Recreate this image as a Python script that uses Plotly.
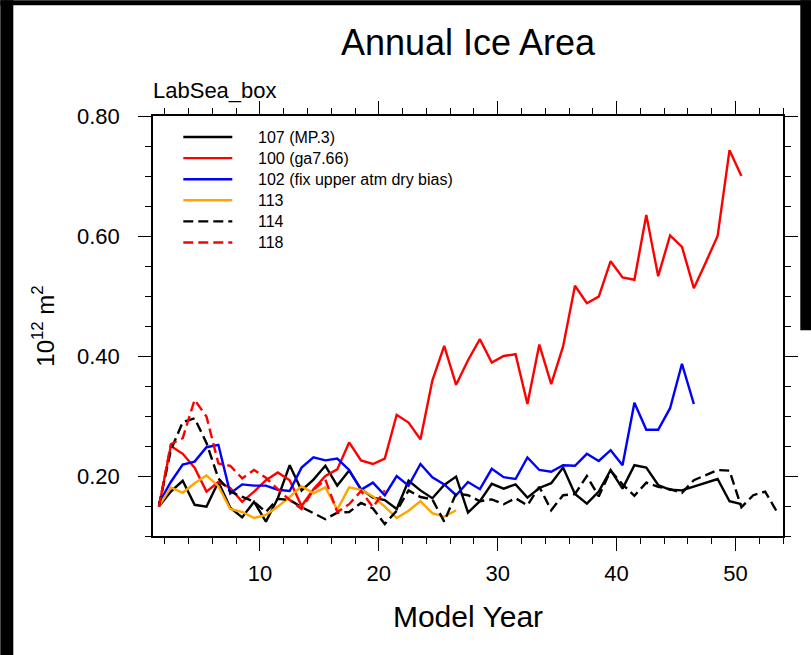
import plotly.graph_objects as go

# ---- data: annual ice area (10^12 m^2) per model year (mid-year positions) ----
years = [y + 0.5 for y in range(1, 54)]

area_107 = [0.149, 0.174, 0.192, 0.152, 0.149, 0.190, 0.147, 0.131, 0.157, 0.124,
            0.163, 0.218, 0.176, 0.194, 0.217, 0.184, 0.209, 0.178, 0.164, 0.160,
            0.145, 0.192, 0.176, 0.163, 0.185, 0.199, 0.139, 0.158, 0.187, 0.179,
            0.186, 0.164, 0.180, 0.188, 0.214, 0.170, 0.154, 0.174, 0.210, 0.179,
            0.218, 0.214, 0.185, 0.177, 0.176, 0.182, 0.188, 0.195, 0.158, 0.153]

area_100 = [0.149, 0.250, 0.237, 0.214, 0.174, 0.190, 0.180, 0.157, 0.174, 0.193,
            0.206, 0.193, 0.150, 0.178, 0.200, 0.211, 0.256, 0.226, 0.220, 0.229,
            0.302, 0.289, 0.261, 0.359, 0.417, 0.352, 0.393, 0.428, 0.389, 0.400,
            0.403, 0.320, 0.419, 0.353, 0.416, 0.517, 0.488, 0.499, 0.558, 0.531,
            0.527, 0.635, 0.533, 0.601, 0.582, 0.513, 0.556, 0.600, 0.743, 0.700]

area_102 = [0.155, 0.190, 0.219, 0.224, 0.248, 0.252, 0.171, 0.186, 0.184, 0.184,
            0.177, 0.175, 0.214, 0.231, 0.226, 0.229, 0.210, 0.177, 0.189, 0.168,
            0.200, 0.184, 0.220, 0.198, 0.186, 0.168, 0.190, 0.178, 0.212, 0.198,
            0.195, 0.231, 0.210, 0.207, 0.218, 0.217, 0.237, 0.225, 0.243, 0.218,
            0.322, 0.277, 0.277, 0.313, 0.387, 0.320]

area_113 = [0.150, 0.181, 0.172, 0.188, 0.201, 0.183, 0.145, 0.140, 0.130, 0.135,
            0.149, 0.165, 0.183, 0.171, 0.181, 0.144, 0.181, 0.177, 0.166, 0.149,
            0.130, 0.142, 0.158, 0.138, 0.132, 0.143]

area_114 = [0.150, 0.243, 0.290, 0.296, 0.255, 0.196, 0.174, 0.165, 0.157, 0.140,
            0.162, 0.160, 0.148, 0.138, 0.128, 0.139, 0.140, 0.155, 0.146, 0.120,
            0.142, 0.176, 0.165, 0.161, 0.124, 0.171, 0.168, 0.158, 0.161, 0.153,
            0.163, 0.151, 0.182, 0.143, 0.168, 0.170, 0.200, 0.166, 0.209, 0.186,
            0.167, 0.189, 0.182, 0.178, 0.172, 0.193, 0.201, 0.210, 0.209, 0.148,
            0.168, 0.174, 0.140]

area_118 = [0.149, 0.253, 0.263, 0.327, 0.299, 0.221, 0.217, 0.196, 0.210, 0.197,
            0.178, 0.160, 0.145, 0.177, 0.194, 0.140, 0.153, 0.175, 0.148, 0.176]

run_labels = ["107 (MP.3)", "100 (ga7.66)", "102 (fix upper atm dry bias)",
              "113", "114", "118"]
run_values = [area_107, area_100, area_102, area_113, area_114, area_118]
run_colors = ["black", "red", "blue", "orange", "black", "red"]
run_dashes = ["solid", "solid", "solid", "solid", "10px,5px", "10px,5px"]

x_ticks = [10, 20, 30, 40, 50]
y_ticks = [0.2, 0.4, 0.6, 0.8]

# ---- page geometry (pixels) ----
W, H = 811, 655
PL, PR, PT, PB = 152.7, 782.7, 115.7, 535.7
FONT = "Liberation Sans, Arial, Helvetica, sans-serif"
LINE_W = 2.4


def px(xp):
    return (xp - PL) / (PR - PL)


def py(yp):
    return (PB - yp) / (PB - PT)


fig = go.Figure()
for label, vals, color, dash in zip(run_labels, run_values, run_colors, run_dashes):
    fig.add_trace(go.Scatter(
        x=years[:len(vals)], y=vals, mode="lines", name=label,
        line=dict(color=color, width=LINE_W, dash=dash),
        showlegend=False,
    ))

shapes = []
annotations = []

# legend block in the upper-left corner of the plot
row0, row_step = 136.7, 21.1
for i, (label, color, dash) in enumerate(zip(run_labels, run_colors, run_dashes)):
    yy = py(row0 + i * row_step)
    shapes.append(dict(type="line", xref="paper", yref="paper",
                       x0=px(183), x1=px(232), y0=yy, y1=yy,
                       line=dict(color=color, width=LINE_W, dash=dash)))
    annotations.append(dict(xref="paper", yref="paper", x=px(256), y=yy,
                            xanchor="left", yanchor="middle", showarrow=False,
                            text=label, font=dict(family=FONT, size=16, color="black")))

# dark frame strips along the page edges
frame = [(0, 13, 0, H), (0, W, 0, 5), (800, W, 0, 330)]
for x0, x1, y0, y1 in frame:
    shapes.append(dict(type="rect", xref="paper", yref="paper",
                       x0=px(x0), x1=px(x1), y0=py(y1), y1=py(y0),
                       fillcolor="black", line=dict(width=0), layer="above"))

annotations.append(dict(xref="paper", yref="paper", x=0, y=1, xshift=-2, yshift=26,
                        xanchor="left", yanchor="middle", showarrow=False,
                        text="LabSea_box", font=dict(family=FONT, size=22, color="black")))

axis_common = dict(
    showgrid=False, zeroline=False, showline=True, linecolor="black", linewidth=1.6,
    mirror="ticks", ticks="outside", ticklen=13, tickwidth=1.3, tickcolor="black",
    tickfont=dict(family=FONT, size=22, color="black"),
)

fig.update_layout(
    width=W, height=H,
    margin=dict(l=PL, r=W - PR, t=PT, b=H - PB, autoexpand=False),
    paper_bgcolor="white", plot_bgcolor="white",
    title=dict(text="Annual Ice Area", x=0.5, xref="paper", xanchor="center",
               y=1 - 42 / H, yref="container", yanchor="middle",
               font=dict(family=FONT, size=36, color="black")),
    xaxis=dict(
        range=[1, 54], tickvals=x_ticks, ticktext=[str(t) for t in x_ticks],
        ticklabelstandoff=4,
        minor=dict(dtick=2, tick0=0, ticks="outside", ticklen=6.5, tickwidth=1.3,
                   tickcolor="black", showgrid=False),
        title=dict(text="Model Year", standoff=21,
                   font=dict(family=FONT, size=30, color="black")),
        **axis_common,
    ),
    yaxis=dict(
        range=[0.1, 0.8], tickvals=y_ticks, ticktext=[f"{t:.2f}" for t in y_ticks],
        ticklabelstandoff=14,
        minor=dict(dtick=0.05, tick0=0, ticks="outside", ticklen=6.5, tickwidth=1.3,
                   tickcolor="black", showgrid=False),
        title=dict(text="10<sup>12</sup> m<sup>2</sup>", standoff=16,
                   font=dict(family=FONT, size=24, color="black")),
        **axis_common,
    ),
    shapes=shapes,
    annotations=annotations,
)

fig.write_html("out.html")
